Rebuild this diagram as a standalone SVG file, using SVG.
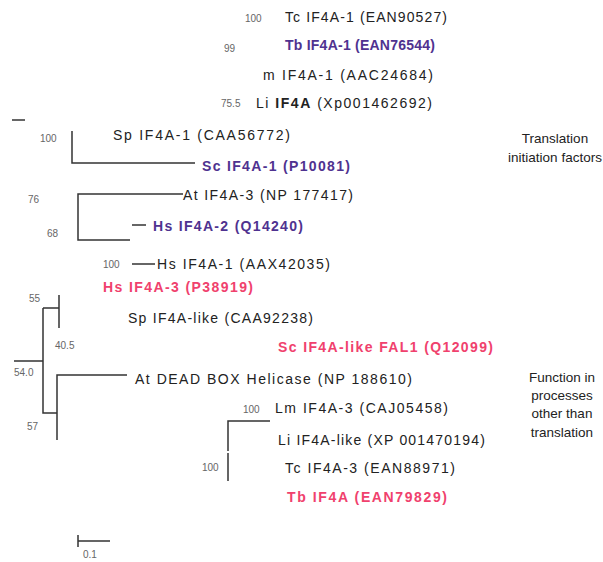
<svg xmlns="http://www.w3.org/2000/svg" width="603" height="562" viewBox="0 0 603 562">
<style>
text{font-family:"Liberation Sans",Arial,sans-serif;font-size:14px;fill:#222}
.p{fill:#4f3290;font-weight:bold}
.r{fill:#f0416d;font-weight:bold}
.b{font-size:10px;fill:#666}
.t{font-size:13.5px}
.ln{stroke:#333;stroke-width:1.5;fill:none}
</style>
<rect width="603" height="562" fill="#fff"/>
<g id="connectors">
<path class="ln" d="M12 120H25"/>
<path class="ln" d="M72 131V163H195"/>
<path class="ln" d="M183 194H78V240H130"/>
<path class="ln" d="M132 225H146"/>
<path class="ln" d="M132 264H155"/>
<path class="ln" d="M59 295V328M43 308H59M43 308V413H57M14 361H43"/>
<path class="ln" d="M57 440V375H127"/>
<path class="ln" d="M270 421H228V451M228 453V481"/>
<path class="ln" d="M78 535V547M78 541H110"/>
</g>
<g id="n1"><text class="b" x="245" y="22">100</text><text x="285" y="22" textLength="162" lengthAdjust="spacing">Tc IF4A-1 (EAN90527)</text></g>
<g id="n2"><text class="b" x="224" y="52">99</text><text class="p" x="285" y="50" textLength="150" lengthAdjust="spacing">Tb IF4A-1 (EAN76544)</text></g>
<g id="n3"><text x="263" y="80" textLength="170" lengthAdjust="spacing">m IF4A-1 (AAC24684)</text></g>
<g id="n4"><text class="b" x="221" y="107">75.5</text><text x="256" y="108" textLength="176" lengthAdjust="spacing">Li <tspan font-weight="bold">IF4A</tspan> (Xp001462692)</text></g>
<g id="n5"><text class="b" x="40" y="142">100</text><text x="113" y="140" textLength="177" lengthAdjust="spacing">Sp IF4A-1 (CAA56772)</text></g>
<g id="n6"><text class="p" x="202" y="171" textLength="148" lengthAdjust="spacing">Sc IF4A-1 (P10081)</text></g>
<g id="n7"><text class="b" x="28" y="203">76</text><text x="183" y="200" textLength="170" lengthAdjust="spacing">At IF4A-3 (NP 177417)</text></g>
<g id="n8"><text class="b" x="47" y="237">68</text><text class="p" x="153" y="231" textLength="150" lengthAdjust="spacing">Hs IF4A-2 (Q14240)</text></g>
<g id="n9"><text class="b" x="103" y="268">100</text><text x="157" y="269" textLength="173" lengthAdjust="spacing">Hs IF4A-1 (AAX42035)</text></g>
<g id="n10"><text class="r" x="103" y="292" textLength="150" lengthAdjust="spacing">Hs IF4A-3 (P38919)</text><text class="b" x="29" y="302">55</text></g>
<g id="n11"><text x="128" y="323" textLength="185" lengthAdjust="spacing">Sp IF4A-like (CAA92238)</text><text class="b" x="55" y="349">40.5</text></g>
<g id="n12"><text class="r" x="278" y="352" textLength="215" lengthAdjust="spacing">Sc IF4A-like FAL1 (Q12099)</text></g>
<g id="n13"><text class="b" x="14" y="376">54.0</text><text x="135" y="384" textLength="277" lengthAdjust="spacing">At DEAD BOX Helicase (NP 188610)</text><text class="b" x="27" y="430">57</text></g>
<g id="n14"><text class="b" x="243" y="413">100</text><text x="275" y="413" textLength="173" lengthAdjust="spacing">Lm IF4A-3 (CAJ05458)</text></g>
<g id="n15"><text x="278" y="445" textLength="207" lengthAdjust="spacing">Li IF4A-like (XP 001470194)</text></g>
<g id="n16"><text class="b" x="202" y="471">100</text><text x="285" y="473" textLength="170" lengthAdjust="spacing">Tc IF4A-3 (EAN88971)</text></g>
<g id="n17"><text class="r" x="287" y="502" textLength="160" lengthAdjust="spacing">Tb IF4A (EAN79829)</text></g>
<g id="labels">
<text class="t" x="555" y="143" text-anchor="middle">Translation</text>
<text class="t" x="555" y="162" text-anchor="middle">initiation factors</text>
<text class="t" x="562" y="382" text-anchor="middle">Function in</text>
<text class="t" x="562" y="400" text-anchor="middle">processes</text>
<text class="t" x="562" y="418" text-anchor="middle">other than</text>
<text class="t" x="562" y="437" text-anchor="middle">translation</text>
<text class="b" x="83" y="558">0.1</text>
</g>
</svg>
